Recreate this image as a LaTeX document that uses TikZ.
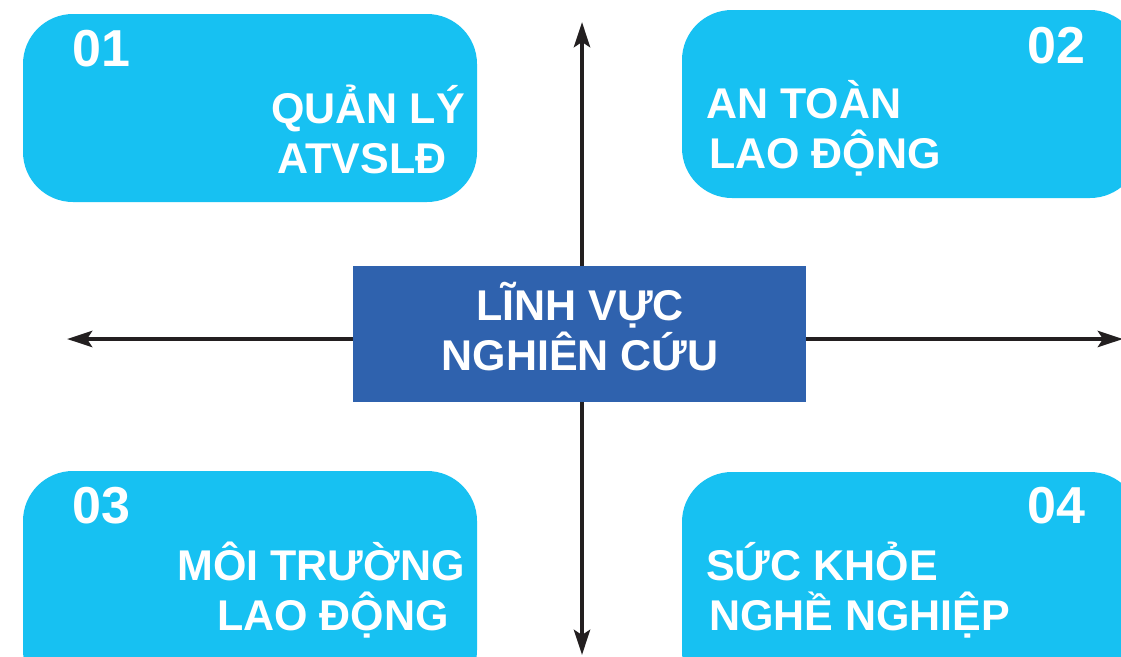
\documentclass[tikz,border=0pt]{standalone}
\usepackage{fontspec}
\setmainfont{Liberation Sans}
\usetikzlibrary{arrows.meta}
\definecolor{cyanbox}{HTML}{17C1F2}
\definecolor{bluebox}{HTML}{2F62AE}
\definecolor{arrowcol}{HTML}{231F20}
\tikzset{
  cbox/.style={fill=cyanbox, draw=none, rounded corners=50pt, inner sep=0pt},
  centbox/.style={fill=bluebox, draw=none, inner sep=0pt, minimum width=453pt, minimum height=136pt},
  numtxt/.style={text=white, font=\fontsize{52}{52}\selectfont\bfseries, inner sep=0pt},
  lbltxt/.style={text=white, font=\fontsize{43}{43}\selectfont\bfseries, inner sep=0pt},
  axis/.style={draw=arrowcol, line width=4.5pt, -{Stealth[length=25pt,width=16pt,inset=5pt]}},
}
\begin{document}
\begin{tikzpicture}[x=1pt,y=-1pt]
\clip (0,0) rectangle (1121,656);
\fill[white] (0,0) rectangle (1121,656);
% boxes
\node[cbox, minimum width=454pt, minimum height=188pt] (b1) at (250,108) {};
\node[cbox, minimum width=458pt, minimum height=188pt] (b2) at (911,104) {};
\node[cbox, minimum width=454pt, minimum height=229pt] (b3) at (250,585.5) {};
\node[cbox, minimum width=458pt, minimum height=229pt] (b4) at (911,586.5) {};
% axes
\coordinate (o) at (582,339);
\coordinate (tn) at (582,22);
\coordinate (ts) at (582,655);
\coordinate (tw) at (67,339);
\coordinate (te) at (1123,339);
\coordinate (ovs) at (582,340);
\draw[axis] (ovs) -- (tn);
\draw[axis] (o) -- (ts);
\draw[axis] (o) -- (tw);
\draw[axis] (o) -- (te);
% centre
\node[centbox] (c) at (579.5,334) {};
\node[lbltxt, anchor=base] (c1) at (580,320) {LĨNH VỰC};
\node[lbltxt, anchor=base] (c2) at (580,370) {NGHIÊN CỨU};
% numbers
\node[numtxt, anchor=base west] (n1) at (72,66) {01};
\node[numtxt, anchor=base east] (n2) at (1086,63) {02};
\node[numtxt, anchor=base west] (n3) at (72,523) {03};
\node[numtxt, anchor=base east] (n4) at (1086,523) {04};
% labels
\node[lbltxt, anchor=base] (l1a) at (368,123) {QUẢN LÝ};
\node[lbltxt, anchor=base] (l1b) at (362,173) {ATVSLĐ};
\node[lbltxt, anchor=base west] (l2a) at (706,118) {AN TOÀN};
\node[lbltxt, anchor=base west] (l2b) at (709,168) {LAO ĐỘNG};
\node[lbltxt, anchor=base] (l3a) at (321,580) {MÔI TRƯỜNG};
\node[lbltxt, anchor=base] (l3b) at (333,630) {LAO ĐỘNG};
\node[lbltxt, anchor=base west] (l4a) at (706,580) {SỨC KHỎE};
\node[lbltxt, anchor=base west] (l4b) at (709,630) {NGHỀ NGHIỆP};
\end{tikzpicture}
\end{document}
